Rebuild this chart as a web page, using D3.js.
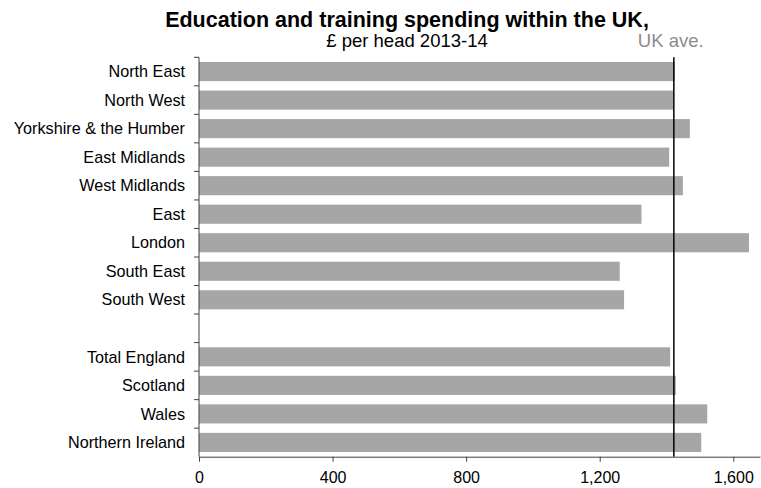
<!DOCTYPE html>
<html>
<head>
<meta charset="utf-8">
<script src="https://cdn.jsdelivr.net/npm/d3@7"></script>
<style>
  html, body { margin: 0; padding: 0; background: #fff; }
  svg { display: block; font-family: "Liberation Sans", Arial, sans-serif; }
</style>
</head>
<body>
<svg id="chart" width="761" height="488"></svg>
<script>
// Regions, with an empty slot separating the English regions from the nations
const regions = [
  "North East", "North West", "Yorkshire & the Humber", "East Midlands",
  "West Midlands", "East", "London", "South East", "South West", "",
  "Total England", "Scotland", "Wales", "Northern Ireland"
];
// Spending, £ per head 2013-14
const spending = [1425, 1420, 1470, 1408, 1449, 1325, 1647, 1260, 1273, null,
                  1411, 1428, 1522, 1504];
const ukAverage = 1422;
const xTicks = [0, 400, 800, 1200, 1600];

const svg = d3.select("#chart");
const margin = { left: 199, right: 1, top: 57.3, bottom: 31.3 };
const width = 761, height = 488;

const x = d3.scaleLinear().domain([0, 1680]).range([margin.left, width - margin.right]);
const y = d3.scaleBand()
  .domain(d3.range(regions.length))
  .range([margin.top, height - margin.bottom])
  .paddingInner(0.33).paddingOuter(0.165);

// Bars
svg.append("g").selectAll("rect")
  .data(spending.map((v, i) => ({ v, i })).filter(d => d.v != null))
  .join("rect")
  .attr("x", x(0))
  .attr("y", d => y(d.i))
  .attr("width", d => x(d.v) - x(0))
  .attr("height", y.bandwidth())
  .attr("fill", "#a6a6a6");

// UK average reference line
svg.append("line")
  .attr("x1", x(ukAverage)).attr("x2", x(ukAverage))
  .attr("y1", margin.top).attr("y2", height - margin.bottom)
  .attr("stroke", "#000").attr("stroke-width", 1.5);

svg.append("text")
  .attr("x", x(ukAverage) - 36).attr("y", 47)
  .attr("font-size", 18.5).attr("fill", "#8c8c8c")
  .text("UK ave.");

// Category axis: ticks mark the band boundaries
const step = y.step();
const yAxis = svg.append("g");
yAxis.append("line")
  .attr("x1", x(0)).attr("x2", x(0))
  .attr("y1", margin.top).attr("y2", height - margin.bottom)
  .attr("stroke", "#404040");
yAxis.selectAll("line.tick")
  .data(d3.range(regions.length))
  .join("line").attr("class", "tick")
  .attr("x1", x(0) - 5).attr("x2", x(0))
  .attr("y1", i => margin.top + i * step).attr("y2", i => margin.top + i * step)
  .attr("stroke", "#404040");
yAxis.selectAll("text")
  .data(regions.map((r, i) => ({ r, i })).filter(d => d.r))
  .join("text")
  .attr("x", 185)
  .attr("y", d => y(d.i) + y.bandwidth() / 2)
  .attr("dy", "0.35em")
  .attr("text-anchor", "end")
  .attr("font-size", 16.2).attr("fill", "#000")
  .text(d => d.r);

// Value axis
const xAxis = svg.append("g")
  .attr("transform", `translate(0,${height - margin.bottom})`)
  .call(d3.axisBottom(x).tickValues(xTicks).tickSize(5).tickPadding(10)
    .tickFormat(d3.format(",")).tickSizeOuter(0));
xAxis.select(".domain").attr("stroke", "#404040");
xAxis.selectAll(".tick line").attr("stroke", "#404040");
xAxis.selectAll(".tick text")
  .attr("font-size", 16).attr("fill", "#000")
  .attr("font-family", "Liberation Sans, Arial, sans-serif");

// Titles
svg.append("text")
  .attr("x", 407).attr("y", 27)
  .attr("text-anchor", "middle")
  .attr("font-size", 21.5).attr("font-weight", "bold")
  .text("Education and training spending within the UK,");
svg.append("text")
  .attr("x", 407).attr("y", 47)
  .attr("text-anchor", "middle")
  .attr("font-size", 18.5)
  .text("£ per head 2013-14");
</script>
</body>
</html>
